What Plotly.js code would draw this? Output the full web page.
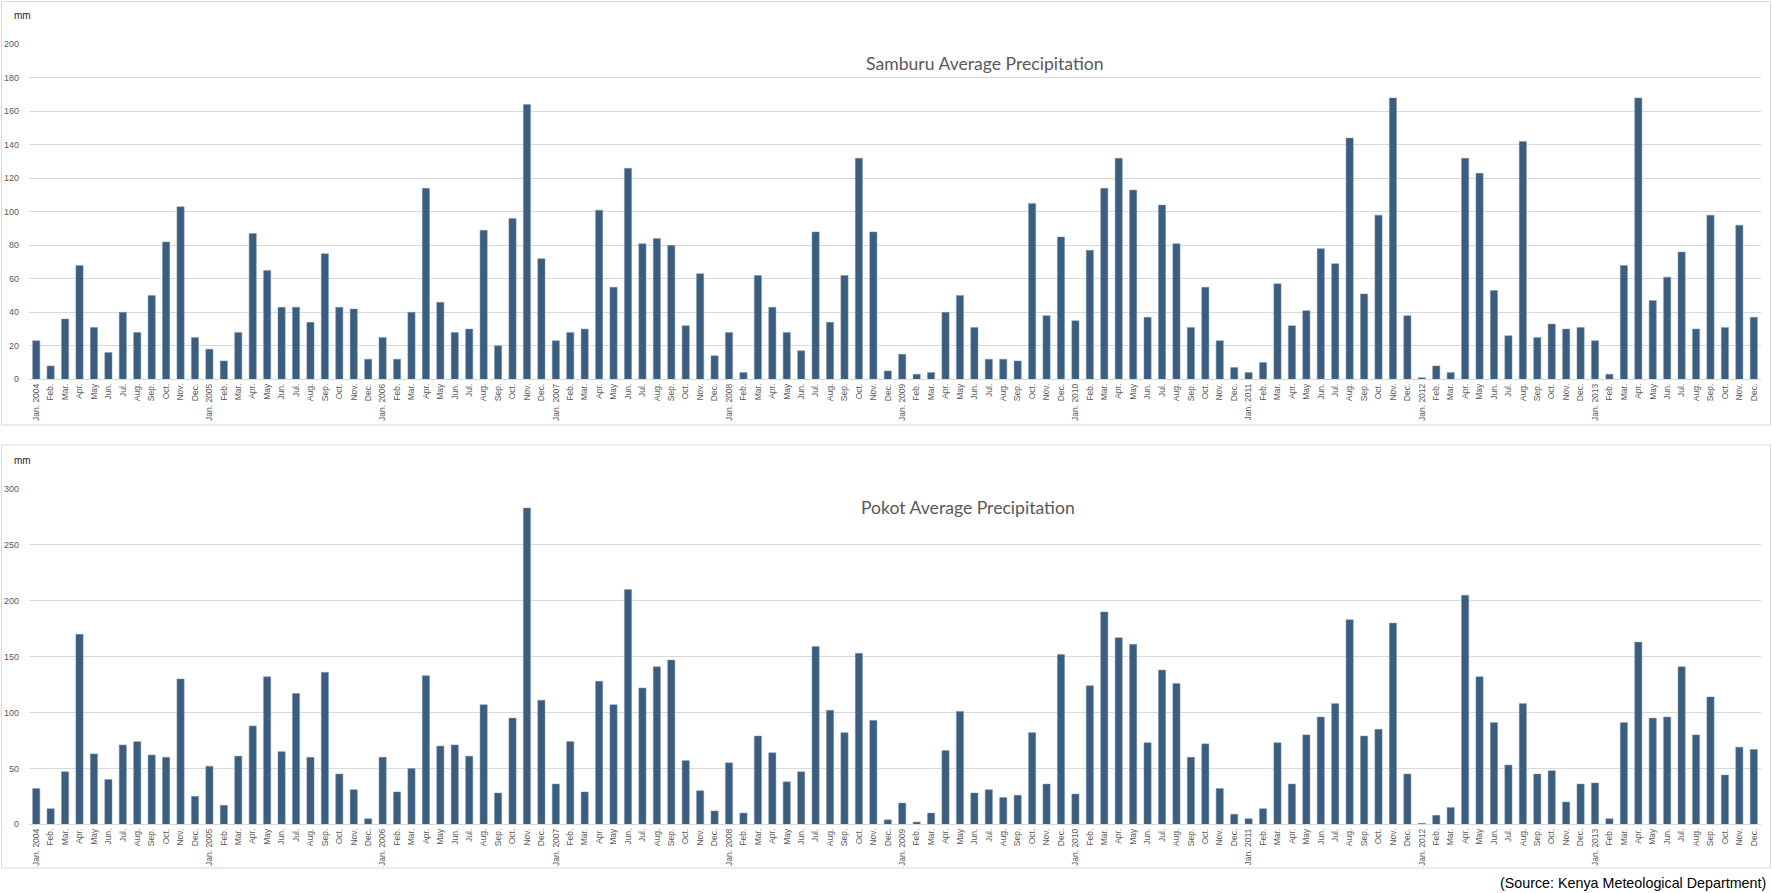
<!DOCTYPE html>
<html>
<head>
<meta charset="utf-8">
<script src="https://cdn.plot.ly/plotly-3.0.1.min.js"></script>
<style>
html,body{margin:0;padding:0;background:#ffffff;}
#chart{width:1772px;height:893px;}
</style>
</head>
<body>
<div id="chart"></div>
<script>
// ---------- data ----------
const years = [2004, 2005, 2006, 2007, 2008, 2009, 2010, 2011, 2012, 2013];
const months = ['Jan.', 'Feb.', 'Mar.', 'Apr.', 'May', 'Jun.', 'Jul.', 'Aug.', 'Sep.', 'Oct.', 'Nov.', 'Dec.'];

// Samburu average precipitation (mm), Jan..Dec per year
const samburu = [
  23, 8, 36, 68, 31, 16, 40, 28, 50, 82, 103, 25,      // 2004
  18, 11, 28, 87, 65, 43, 43, 34, 75, 43, 42, 12,      // 2005
  25, 12, 40, 114, 46, 28, 30, 89, 20, 96, 164, 72,    // 2006
  23, 28, 30, 101, 55, 126, 81, 84, 80, 32, 63, 14,    // 2007
  28, 4, 62, 43, 28, 17, 88, 34, 62, 132, 88, 5,       // 2008
  15, 3, 4, 40, 50, 31, 12, 12, 11, 105, 38, 85,       // 2009
  35, 77, 114, 132, 113, 37, 104, 81, 31, 55, 23, 7,   // 2010
  4, 10, 57, 32, 41, 78, 69, 144, 51, 98, 168, 38,     // 2011
  1, 8, 4, 132, 123, 53, 26, 142, 25, 33, 30, 31,      // 2012
  23, 3, 68, 168, 47, 61, 76, 30, 98, 31, 92, 37       // 2013
];

// Pokot average precipitation (mm), Jan..Dec per year
const pokot = [
  32, 14, 47, 170, 63, 40, 71, 74, 62, 60, 130, 25,    // 2004
  52, 17, 61, 88, 132, 65, 117, 60, 136, 45, 31, 5,    // 2005
  60, 29, 50, 133, 70, 71, 61, 107, 28, 95, 283, 111,  // 2006
  36, 74, 29, 128, 107, 210, 122, 141, 147, 57, 30, 12,// 2007
  55, 10, 79, 64, 38, 47, 159, 102, 82, 153, 93, 4,    // 2008
  19, 2, 10, 66, 101, 28, 31, 24, 26, 82, 36, 152,     // 2009
  27, 124, 190, 167, 161, 73, 138, 126, 60, 72, 32, 9, // 2010
  5, 14, 73, 36, 80, 96, 108, 183, 79, 85, 180, 45,    // 2011
  1, 8, 15, 205, 132, 91, 53, 108, 45, 48, 20, 36,     // 2012
  37, 5, 91, 163, 95, 96, 141, 80, 114, 44, 69, 67     // 2013
];

const titleTop = 'Samburu Average Precipitation';
const titleBottom = 'Pokot Average Precipitation';
const unitLabel = 'mm';
const sourceNote = '(Source: Kenya Meteological Department)';

// categories and tick labels
const categories = [];
const tickLabels = [];
years.forEach(y => months.forEach((m, i) => {
  categories.push(m + ' ' + y);
  tickLabels.push(i === 0 ? m + ' ' + y : m);
}));

// ---------- layout helpers ----------
const W = 1772, H = 893;
const px = v => v / W;
const py = v => 1 - v / H;

const barColor = '#3b5e7f';
const gridColor = '#d9d9d9';
const textGray = '#595959';

const xDomain = [px(29), px(1761)];

const traceTop = {
  type: 'bar', x: categories, y: samburu, xaxis: 'x', yaxis: 'y',
  marker: {color: barColor, line: {color: '#7f97ae', width: 0.5}},
  hoverinfo: 'x+y'
};
const traceBottom = {
  type: 'bar', x: categories, y: pokot, xaxis: 'x2', yaxis: 'y2',
  marker: {color: barColor, line: {color: '#7f97ae', width: 0.5}},
  hoverinfo: 'x+y'
};

const xCommon = {
  type: 'category',
  tickmode: 'array', tickvals: categories, ticktext: tickLabels,
  tickangle: -90,
  tickfont: {family: 'Liberation Sans, Arial, sans-serif', size: 8.5, color: textGray},
  showgrid: false, showline: true, linecolor: gridColor, linewidth: 1,
  ticks: '', zeroline: false, range: [-0.5, categories.length - 0.5],
  fixedrange: true
};
const yCommon = {
  showgrid: true, gridcolor: gridColor, gridwidth: 1,
  zeroline: false, showline: false, ticks: '',
  tickfont: {family: 'Liberation Sans, Arial, sans-serif', size: 9, color: textGray},
  ticklabelstandoff: 9,
  fixedrange: true
};

const layout = {
  width: W, height: H,
  margin: {l: 0, r: 0, t: 0, b: 0},
  paper_bgcolor: '#ffffff', plot_bgcolor: '#ffffff',
  showlegend: false,
  bargap: 0.5,
  xaxis: Object.assign({}, xCommon, {domain: xDomain, anchor: 'y'}),
  yaxis: Object.assign({}, yCommon, {domain: [py(379.3), py(44.3)], range: [0, 200], dtick: 20, anchor: 'x'}),
  xaxis2: Object.assign({}, xCommon, {domain: xDomain, anchor: 'y2'}),
  yaxis2: Object.assign({}, yCommon, {domain: [py(824.3), py(489)], range: [0, 300], dtick: 50, anchor: 'x2'}),
  shapes: [
    {type: 'rect', xref: 'paper', yref: 'paper', x0: px(1.5), x1: px(1770.5), y0: py(425), y1: py(1.5),
     line: {color: gridColor, width: 1}, fillcolor: 'rgba(0,0,0,0)', layer: 'below'},
    {type: 'rect', xref: 'paper', yref: 'paper', x0: px(1.5), x1: px(1770.5), y0: py(868), y1: py(445),
     line: {color: gridColor, width: 1}, fillcolor: 'rgba(0,0,0,0)', layer: 'below'}
  ],
  annotations: [
    {text: titleTop, xref: 'paper', yref: 'paper', x: px(985), y: py(63), xanchor: 'center', yanchor: 'middle',
     showarrow: false, font: {family: 'Lato, Open Sans, sans-serif', size: 17.6, color: textGray}},
    {text: titleBottom, xref: 'paper', yref: 'paper', x: px(968), y: py(507), xanchor: 'center', yanchor: 'middle',
     showarrow: false, font: {family: 'Lato, Open Sans, sans-serif', size: 17.6, color: textGray}},
    {text: unitLabel, xref: 'paper', yref: 'paper', x: px(12), y: py(15.5), xanchor: 'left', yanchor: 'middle',
     showarrow: false, font: {family: 'Liberation Sans, Arial, sans-serif', size: 10, color: '#262626'}},
    {text: unitLabel, xref: 'paper', yref: 'paper', x: px(12), y: py(460), xanchor: 'left', yanchor: 'middle',
     showarrow: false, font: {family: 'Liberation Sans, Arial, sans-serif', size: 10, color: '#262626'}},
    {text: sourceNote, xref: 'paper', yref: 'paper', x: px(1768), y: py(883), xanchor: 'right', yanchor: 'middle',
     showarrow: false, font: {family: 'Liberation Sans, Arial, sans-serif', size: 14.3, color: '#000000'}}
  ]
};

Plotly.newPlot('chart', [traceTop, traceBottom], layout, {displayModeBar: false, staticPlot: true});
</script>
</body>
</html>
